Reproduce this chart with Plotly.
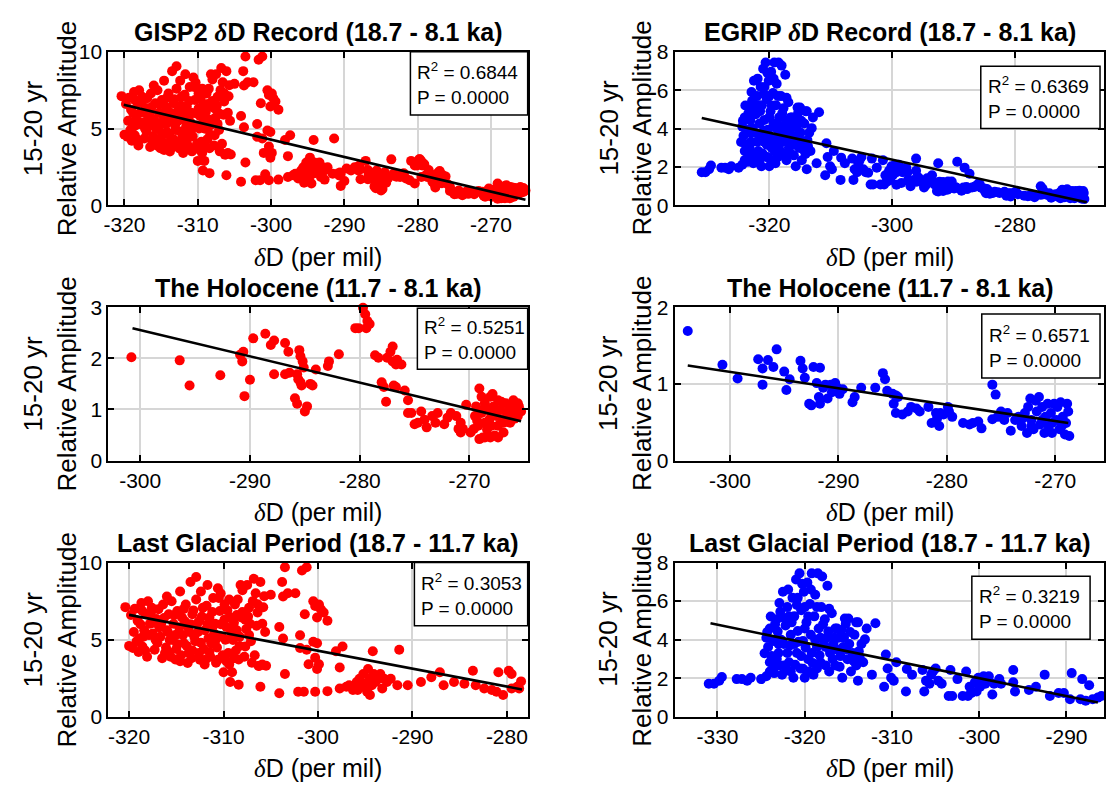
import plotly.graph_objects as go

W, H = 1106, 792

# ---------------- data ----------------
# (deltaD per mil, 15-20 yr relative amplitude)
gisp2_holocene = [
    (-300.8, 2.02), (-296.4, 1.96), (-295.5, 1.47), (-292.7, 1.67), (-290.9, 2.07), (-290.7, 1.94),
    (-290.6, 2.13), (-290.5, 1.26), (-290.0, 1.58), (-289.7, 2.39), (-288.6, 2.48), (-288.1, 2.26),
    (-287.8, 2.35), (-287.8, 1.69), (-286.8, 2.30), (-286.5, 2.13), (-286.8, 1.69), (-286.4, 1.72),
    (-285.9, 1.22), (-285.7, 1.11), (-285.5, 2.16), (-285.4, 2.04), (-285.2, 1.94), (-285.7, 1.69),
    (-285.6, 1.59), (-285.4, 1.53), (-285.3, 1.47), (-285.1, 1.82), (-285.0, 0.96), (-284.8, 1.06),
    (-284.5, 1.50), (-284.3, 1.47), (-284.0, 1.78), (-282.9, 1.85), (-282.8, 1.94), (-281.9, 2.08),
    (-280.4, 2.59), (-280.1, 2.59), (-279.7, 2.99), (-279.5, 2.86), (-279.3, 2.73), (-279.1, 2.67),
    (-279.4, 2.59), (-278.6, 2.06), (-278.3, 2.01), (-278.0, 1.53), (-277.8, 1.44), (-277.6, 1.15),
    (-277.5, 2.01), (-277.2, 2.13), (-277.0, 2.23), (-277.0, 1.94), (-276.7, 1.88), (-276.6, 1.97),
    (-276.2, 1.88), (-276.9, 1.47), (-276.7, 1.44), (-275.9, 1.37), (-275.6, 1.18), (-275.6, 0.93),
    (-275.3, 0.93), (-275.0, 0.71), (-274.7, 0.74), (-274.4, 0.96), (-274.1, 0.80), (-273.9, 0.65),
    (-273.4, 0.87), (-273.1, 0.74), (-272.9, 0.93), (-272.3, 0.71), (-272.0, 0.84), (-271.7, 0.93),
    (-271.2, 0.87), (-270.8, 0.74), (-270.8, 0.55), (-270.3, 1.09), (-271.0, 0.62), (-270.6, 0.62),
    (-269.9, 0.55), (-269.5, 0.87), (-269.4, 1.06), (-269.2, 0.68), (-269.1, 1.41), (-268.9, 1.25),
    (-268.9, 0.93), (-268.8, 0.45), (-268.6, 1.12), (-268.6, 0.74), (-268.4, 0.61), (-268.3, 0.99),
    (-268.3, 0.49), (-268.1, 1.25), (-268.0, 0.87), (-268.0, 0.68), (-267.8, 1.06), (-267.7, 0.49),
    (-267.5, 0.87), (-267.4, 1.18), (-267.4, 0.68), (-267.2, 0.99), (-267.0, 0.80), (-266.9, 0.55),
    (-266.7, 1.12), (-266.6, 0.87), (-266.4, 1.06), (-266.3, 0.74), (-266.1, 0.93), (-266.0, 1.18),
    (-265.8, 0.99), (-265.6, 0.87), (-265.5, 1.06), (-265.3, 0.96), (-269.1, 0.42), (-268.6, 0.45),
    (-268.1, 0.45), (-267.4, 0.45), (-266.9, 0.74), (-269.6, 0.62), (-268.7, 1.00), (-267.9, 1.30),
    (-267.1, 1.15), (-266.5, 0.95), (-265.9, 0.82), (-268.2, 0.80), (-267.6, 0.95), (-269.3, 0.78),
    (-266.2, 1.02), (-265.6, 1.12),
]

gisp2_glacial = [
    (-320.4, 7.11), (-320.0, 4.60), (-319.6, 4.46), (-319.1, 6.23), (-318.7, 7.38), (-318.6, 6.86),
    (-318.4, 5.61), (-318.2, 6.65), (-318.9, 5.08), (-318.6, 4.56), (-318.0, 7.49), (-317.8, 6.03),
    (-317.6, 7.07), (-317.5, 5.40), (-317.3, 4.35), (-317.1, 6.34), (-316.9, 6.97), (-316.7, 5.19),
    (-316.6, 6.03), (-316.4, 7.28), (-316.2, 4.14), (-316.0, 5.61), (-315.8, 6.65), (-315.7, 4.98),
    (-315.5, 7.49), (-315.3, 6.03), (-315.1, 3.72), (-314.9, 6.86), (-314.8, 5.40), (-314.6, 8.12),
    (-314.4, 6.44), (-314.2, 4.77), (-314.0, 7.28), (-313.8, 5.82), (-313.7, 4.14), (-313.5, 8.74),
    (-313.3, 6.65), (-313.1, 5.19), (-312.9, 9.06), (-312.8, 6.03), (-312.6, 4.14), (-312.4, 8.12),
    (-312.2, 7.07), (-312.0, 5.61), (-311.9, 3.72), (-311.7, 8.54), (-311.5, 6.44), (-311.3, 4.77),
    (-311.1, 7.70), (-310.9, 6.03), (-310.8, 3.51), (-310.6, 8.33), (-310.4, 6.86), (-310.2, 5.19),
    (-310.0, 2.89), (-309.9, 7.28), (-309.7, 5.82), (-309.5, 4.14), (-309.3, 6.44), (-309.1, 2.89),
    (-309.0, 4.98), (-308.8, 7.28), (-308.6, 5.61), (-308.4, 3.72), (-308.2, 8.54), (-308.1, 6.44),
    (-309.3, 2.26), (-308.4, 2.09), (-307.7, 4.56), (-307.5, 8.54), (-307.3, 7.07), (-307.2, 6.03),
    (-307.0, 3.51), (-306.8, 8.95), (-306.6, 8.01), (-306.4, 6.76), (-306.2, 3.31), (-306.1, 8.74),
    (-305.9, 6.03), (-305.7, 7.82), (-305.5, 3.31), (-306.1, 1.95), (-305.0, 7.91), (-303.8, 8.74),
    (-303.5, 9.69), (-303.7, 7.80), (-303.2, 8.01), (-304.1, 5.82), (-303.7, 5.08), (-303.5, 2.78),
    (-304.1, 1.53), (-302.4, 8.01), (-301.9, 5.29), (-301.9, 4.46), (-302.1, 1.63), (-301.5, 1.63),
    (-301.7, 9.48), (-301.2, 9.69), (-301.4, 6.65), (-301.2, 4.35), (-301.0, 3.41), (-300.3, 1.63),
    (-300.5, 7.49), (-300.3, 7.18), (-299.9, 7.28), (-299.7, 6.97), (-299.4, 6.76), (-299.0, 6.23),
    (-300.1, 6.44), (-300.5, 4.87), (-300.1, 4.77), (-300.3, 3.83), (-299.9, 3.41), (-300.1, 3.10),
    (-299.0, 1.67), (-298.1, 4.25), (-297.7, 3.20), (-297.4, 4.56), (-297.7, 1.84), (-297.0, 1.95),
    (-296.7, 2.05), (-296.3, 1.74), (-295.9, 2.26), (-295.8, 1.74), (-295.6, 2.47), (-295.4, 1.95),
    (-295.2, 2.78), (-295.0, 2.15), (-294.8, 1.63), (-294.7, 3.10), (-294.5, 2.47), (-294.5, 1.42),
    (-294.3, 2.05), (-294.2, 4.25), (-294.1, 2.78), (-293.9, 2.26), (-293.6, 2.47), (-293.4, 2.78),
    (-293.2, 1.84), (-293.0, 2.47), (-292.7, 2.26), (-292.3, 2.47), (-291.4, 4.35), (-291.6, 2.05),
    (-290.5, 2.05), (-289.1, 2.26), (-288.0, 2.57), (-287.1, 2.89), (-286.7, 2.05), (-285.6, 2.26),
    (-284.5, 2.15), (-283.6, 2.99), (-283.3, 2.05), (-282.4, 1.84), (-281.6, 1.74), (-281.1, 1.63),
    (-280.9, 2.89), (-280.4, 1.42), (-279.8, 2.99), (-279.5, 2.78), (-279.5, 1.84), (-278.9, 1.95),
    (-278.5, 2.30), (-278.7, 1.84),
    (-319.5, 5.5), (-319.2, 4.9), (-318.8, 6.0), (-318.3, 4.3), (-317.9, 5.3), (-317.7, 6.7),
    (-317.0, 4.8), (-316.8, 5.8), (-316.3, 6.4), (-316.1, 4.5), (-315.9, 5.5), (-315.6, 3.9),
    (-315.4, 5.0), (-315.2, 6.6), (-315.0, 4.4), (-314.7, 5.8), (-314.5, 4.0), (-314.3, 5.3),
    (-314.1, 6.2), (-313.9, 4.6), (-313.6, 5.5), (-313.4, 3.8), (-313.2, 6.9), (-313.0, 4.9),
    (-312.7, 5.5), (-312.5, 3.7), (-312.3, 6.5), (-312.1, 4.4), (-311.8, 7.2), (-311.6, 5.1),
    (-311.4, 3.9), (-311.2, 6.8), (-311.0, 5.4), (-310.7, 4.5), (-310.5, 7.7), (-310.3, 6.0),
    (-310.1, 4.0), (-309.8, 5.0), (-309.6, 6.9), (-309.4, 3.4), (-309.2, 5.6), (-308.9, 6.1),
    (-308.7, 4.3), (-308.5, 7.6), (-308.3, 5.2), (-308.0, 6.8), (-307.8, 3.9), (-307.6, 5.7),
    (-307.4, 6.5), (-307.1, 4.9), (-306.9, 7.5), (-306.5, 5.9), (-306.3, 3.3), (-305.8, 7.1),
    (-305.6, 5.5),
    (-319.8, 6.6), (-319.4, 7.0), (-319.0, 4.2), (-318.5, 5.2), (-318.1, 3.9), (-317.4, 6.1),
    (-317.2, 5.0), (-316.5, 3.8), (-316.0, 7.8), (-315.8, 4.2), (-315.1, 5.3), (-314.9, 4.7),
    (-314.6, 3.6), (-314.2, 7.0), (-313.8, 3.5), (-313.5, 6.0), (-313.3, 4.3), (-312.9, 7.6),
    (-312.6, 6.2), (-312.4, 4.8), (-312.0, 3.4), (-311.7, 6.0), (-311.5, 4.2), (-311.1, 5.9),
    (-310.9, 4.9), (-310.6, 3.7), (-310.3, 8.0), (-309.9, 6.3), (-309.7, 3.6), (-309.4, 7.6),
    (-309.1, 5.3), (-308.9, 3.8), (-308.6, 6.6), (-308.3, 4.6), (-308.0, 8.2), (-307.7, 6.3),
    (-307.3, 5.3), (-306.7, 4.0), (-306.4, 7.3), (-305.9, 3.4),
]

egrip_holocene = [
    (-303.9, 1.69), (-300.7, 1.25), (-299.3, 1.07), (-297.4, 1.32), (-297.0, 1.20), (-297.0, 0.99),
    (-296.5, 1.31), (-296.0, 1.22), (-295.7, 1.45), (-295.0, 1.16), (-294.8, 0.92), (-294.5, 1.06),
    (-293.5, 1.30), (-293.3, 1.20), (-293.1, 1.08), (-292.7, 0.74), (-292.5, 0.72), (-292.3, 1.22),
    (-292.0, 1.01), (-291.8, 0.83), (-291.7, 1.21), (-291.7, 0.74), (-291.4, 0.95), (-291.2, 0.99),
    (-291.0, 0.81), (-290.7, 0.99), (-290.6, 0.89), (-290.3, 1.01), (-290.1, 0.95), (-289.9, 0.87),
    (-289.6, 0.93), (-288.7, 0.76), (-288.5, 0.83), (-287.9, 0.95), (-286.6, 0.95), (-285.9, 1.14),
    (-285.7, 1.06), (-285.5, 0.91), (-285.0, 0.87), (-284.9, 0.74), (-284.7, 0.85), (-284.5, 0.83),
    (-284.7, 0.62), (-284.1, 0.60), (-283.6, 0.64), (-283.3, 0.70), (-282.8, 0.68), (-282.5, 0.64),
    (-281.7, 0.70), (-281.4, 0.49), (-281.0, 0.62), (-280.9, 0.55), (-280.7, 0.45), (-280.6, 0.62),
    (-280.3, 0.60), (-279.9, 0.70), (-279.8, 0.64), (-279.5, 0.57), (-278.5, 0.49), (-277.9, 0.47),
    (-277.6, 0.49), (-277.1, 0.51), (-276.8, 0.42), (-275.8, 0.99), (-275.5, 0.86), (-275.8, 0.54),
    (-275.3, 0.57), (-275.0, 0.64), (-274.7, 0.53), (-274.4, 0.62), (-274.1, 0.39), (-273.7, 0.53),
    (-273.4, 0.57), (-273.1, 0.45), (-272.8, 0.62), (-272.6, 0.36), (-272.5, 0.70), (-272.3, 0.81),
    (-272.2, 0.53), (-272.0, 0.41), (-271.8, 0.78), (-271.7, 0.64), (-271.5, 0.83), (-271.4, 0.47),
    (-271.2, 0.70), (-271.0, 0.36), (-270.9, 0.57), (-270.7, 0.74), (-270.6, 0.45), (-270.4, 0.62),
    (-270.3, 0.36), (-270.1, 0.74), (-269.9, 0.53), (-269.8, 0.70), (-269.6, 0.41), (-269.5, 0.76),
    (-269.3, 0.57), (-269.1, 0.34), (-269.0, 0.49), (-268.8, 0.64), (-268.7, 0.32), (-273.0, 0.55),
    (-272.2, 0.45), (-271.2, 0.53), (-270.3, 0.49), (-269.4, 0.45), (-268.9, 0.74),
]

egrip_glacial = [
    (-331.0, 1.72), (-330.4, 1.72), (-329.8, 1.88), (-329.5, 2.07), (-327.8, 1.96), (-327.2, 1.96),
    (-326.6, 1.88), (-326.2, 2.03), (-325.0, 1.96), (-324.4, 2.11), (-324.0, 2.35),
    (-324.4, 4.10), (-324.2, 3.62), (-324.0, 4.58), (-323.8, 3.15), (-323.6, 3.94), (-323.4, 2.67),
    (-323.2, 5.06), (-323.1, 4.42), (-323.0, 3.31), (-322.8, 5.45), (-322.6, 2.19), (-322.5, 6.49),
    (-322.4, 3.78), (-322.2, 4.74), (-322.0, 5.69), (-321.8, 2.83), (-321.6, 4.26), (-321.4, 6.17),
    (-321.3, 2.03), (-321.2, 5.21), (-321.0, 7.12), (-320.9, 3.31), (-320.8, 4.45), (-320.6, 7.44),
    (-320.5, 2.51), (-320.4, 5.53), (-320.2, 3.94), (-320.1, 6.49), (-320.0, 2.03), (-319.8, 4.90),
    (-319.7, 6.96), (-319.6, 2.99), (-319.4, 5.85), (-319.3, 4.26), (-319.2, 7.44), (-319.0, 2.19),
    (-318.9, 5.21), (-318.8, 6.33), (-318.6, 3.62), (-318.5, 7.44), (-318.4, 4.58), (-318.2, 2.83),
    (-318.1, 5.69), (-318.0, 7.28), (-317.8, 3.94), (-317.7, 5.06), (-317.6, 2.67), (-317.4, 6.80),
    (-317.3, 4.42), (-317.1, 3.31), (-316.9, 5.37), (-316.7, 3.78), (-316.5, 2.67), (-316.3, 4.58),
    (-316.1, 4.10), (-315.9, 3.15), (-315.7, 2.03), (-315.5, 4.10), (-315.3, 4.82), (-315.1, 2.99),
    (-314.9, 3.78), (-314.7, 2.35), (-314.5, 3.31), (-314.3, 4.26), (-314.1, 2.67), (-313.9, 1.88),
    (-313.7, 3.07), (-313.5, 3.78), (-313.3, 2.83), (-312.9, 4.58), (-313.1, 4.02), (-312.3, 2.19),
    (-311.9, 4.85), (-313.9, 4.90), (-315.4, 5.10),
    (-324.0, 2.83), (-323.5, 2.27), (-323.0, 3.78), (-322.4, 2.67), (-322.0, 3.31), (-321.6, 2.35),
    (-321.2, 3.78), (-320.4, 3.15), (-320.0, 4.58), (-319.5, 2.35), (-319.2, 3.31), (-318.6, 2.51),
    (-318.2, 4.10), (-317.6, 3.62), (-317.2, 2.35), (-316.5, 4.58), (-316.2, 3.47), (-315.6, 3.62),
    (-322.9, 2.67), (-320.8, 6.17), (-320.0, 5.69), (-321.8, 5.21),
    (-324.6, 3.3), (-324.3, 4.4), (-323.9, 5.2), (-323.7, 2.4), (-323.4, 4.8), (-323.2, 3.0),
    (-322.9, 5.9), (-322.7, 4.0), (-322.3, 5.1), (-322.1, 2.4), (-321.9, 6.6), (-321.7, 3.7),
    (-321.5, 4.9), (-321.1, 2.7), (-320.9, 5.8), (-320.7, 3.9), (-320.3, 6.9), (-320.2, 2.5),
    (-319.9, 3.6), (-319.6, 5.2), (-319.3, 6.6), (-319.1, 2.8), (-318.8, 4.0), (-318.6, 5.7),
    (-318.3, 3.2), (-317.9, 4.8), (-317.5, 4.1), (-317.2, 5.6), (-316.8, 3.0), (-316.6, 4.1),
    (-316.0, 2.6), (-315.8, 4.5), (-315.2, 3.5), (-314.8, 4.4), (-314.4, 2.9), (-313.8, 3.4),
    (-315.0, 5.1), (-314.1, 4.9),
    (-310.7, 3.23), (-310.5, 2.51), (-310.9, 1.56), (-310.1, 2.03), (-309.8, 1.88), (-309.5, 2.83),
    (-308.4, 1.32), (-308.3, 2.48), (-307.7, 2.19), (-306.5, 2.43), (-306.3, 1.32), (-306.1, 1.88),
    (-305.7, 1.72), (-305.5, 2.19), (-305.3, 2.35), (-305.0, 2.51), (-304.7, 1.88), (-304.3, 1.72),
    (-303.3, 2.43), (-303.5, 1.08), (-303.1, 1.08), (-302.5, 1.96), (-301.9, 1.08), (-301.5, 2.35),
    (-301.3, 1.08), (-301.1, 1.56), (-300.9, 1.24), (-300.5, 1.80), (-300.3, 1.32), (-300.1, 2.03),
    (-299.9, 1.56), (-299.7, 1.88), (-299.5, 2.11), (-299.3, 1.72), (-298.9, 2.11), (-298.5, 1.16),
    (-298.3, 1.72), (-297.7, 1.96), (-297.5, 1.72), (-296.1, 2.43), (-295.9, 1.32), (-296.1, 1.80),
    (-294.3, 1.40), (-293.5, 1.56), (-292.5, 2.19), (-291.9, 1.08), (-290.9, 1.24), (-290.3, 1.24),
    (-289.6, 0.92), (-289.4, 2.27), (-288.2, 1.96), (-287.4, 1.64), (-288.4, 0.92), (-287.8, 0.84),
    (-287.0, 0.92), (-286.4, 1.00), (-286.0, 1.08),
]

# regression lines (endpoints)
fit_gisp2_all = ([-320.1, -265.3], [6.55, 0.35])
fit_egrip_all = ([-331.0, -268.3], [4.55, 0.15])
fit_gisp2_hol = ([-300.7, -265.3], [2.59, 0.77])
fit_egrip_hol = ([-303.9, -268.8], [1.24, 0.49])
fit_gisp2_gla = ([-320.0, -278.4], [6.61, 1.78])
fit_egrip_gla = ([-330.8, -286.4], [4.85, 0.75])

r2_values = ["0.6844", "0.6369", "0.5251", "0.6571", "0.3053", "0.3219"]
p_values = ["0.0000", "0.0000", "0.0000", "0.0000", "0.0000", "0.0000"]

DELTA = "<span style=\"font-family:'Liberation Serif', 'DejaVu Serif', serif\"><i>δ</i></span>"
panel_titles = [
    "GISP2 " + DELTA + "D Record (18.7 - 8.1 ka)",
    "EGRIP " + DELTA + "D Record (18.7 - 8.1 ka)",
    "The Holocene (11.7 - 8.1 ka)",
    "The Holocene (11.7 - 8.1 ka)",
    "Last Glacial Period (18.7 - 11.7 ka)",
    "Last Glacial Period (18.7 - 11.7 ka)",
]
x_label = DELTA + "D (per mil)"
y_label = "15-20 yr<br>Relative Amplitude"

x_ticks = [
    [-320, -310, -300, -290, -280, -270],
    [-320, -300, -280],
    [-300, -290, -280, -270],
    [-300, -290, -280, -270],
    [-320, -310, -300, -290, -280],
    [-330, -320, -310, -300, -290],
]
y_ticks = [
    [0, 5, 10],
    [0, 2, 4, 6, 8],
    [0, 1, 2, 3],
    [0, 1, 2],
    [0, 5, 10],
    [0, 2, 4, 6, 8],
]
x_ranges = [
    [-322.2, -265.0],
    [-335.4, -265.5],
    [-302.9, -264.7],
    [-305.1, -265.5],
    [-322.2, -277.8],
    [-334.9, -285.7],
]
y_ranges = [[0, 10], [0, 8], [0, 3], [0, 2], [0, 10], [0, 8]]

# ---------------- layout geometry (pixels) ----------------
col_px = [(104, 526), (674, 1106)]
row_px = [(41, 199), (304, 462), (567, 726)]
box_px = [
    (408, 526, 41, 106),
    (982, 1102, 56, 120),
    (415, 526, 305, 368),
    (983, 1102, 311, 377),
    (412, 526, 567, 632),
    (973, 1092, 581, 646),
]
ylab_x = [45, 624]

def fx(p):
    return p / W

def fy(p):
    return 1 - p / H

FONT = "Liberation Sans, Arial, Helvetica, sans-serif"

datasets = [
    gisp2_glacial + gisp2_holocene,
    egrip_glacial + egrip_holocene,
    gisp2_holocene,
    egrip_holocene,
    gisp2_glacial,
    egrip_glacial,
]
fits = [fit_gisp2_all, fit_egrip_all, fit_gisp2_hol, fit_egrip_hol, fit_gisp2_gla, fit_egrip_gla]
colors = ["#ff0000", "#0000ff"] * 3

fig = go.Figure()
annotations = []
shapes = []

for i in range(6):
    r, c = divmod(i, 2)
    ax = "" if i == 0 else str(i + 1)
    xs = [p[0] for p in datasets[i]]
    ys = [p[1] for p in datasets[i]]
    fig.add_trace(go.Scatter(
        x=xs, y=ys, mode="markers", xaxis="x" + ax, yaxis="y" + ax,
        marker=dict(color=colors[i], size=10, line=dict(width=0)),
        cliponaxis=False, showlegend=False, hoverinfo="skip",
    ))
    fig.add_trace(go.Scatter(
        x=fits[i][0], y=fits[i][1], mode="lines", xaxis="x" + ax, yaxis="y" + ax,
        line=dict(color="black", width=2.6), showlegend=False, hoverinfo="skip",
    ))
    x0, x1 = col_px[c]
    t0, t1 = row_px[r]
    axis_common = dict(
        showline=True, linecolor="black", linewidth=2, mirror="ticks",
        ticks="inside", ticklen=6, tickwidth=2, tickcolor="black",
        showgrid=True, gridcolor="#d6d6d6", gridwidth=1.5, zeroline=False,
        tickfont=dict(family=FONT, size=21, color="black"), fixedrange=True,
    )
    fig.update_layout(**{
        "xaxis" + ax: dict(axis_common, domain=[fx(x0), fx(x1)], range=x_ranges[i],
                           tickvals=x_ticks[i], ticktext=[str(v) for v in x_ticks[i]],
                           anchor="y" + ax),
        "yaxis" + ax: dict(axis_common, domain=[fy(t1), fy(t0)], range=y_ranges[i],
                           tickvals=y_ticks[i], ticktext=[str(v) for v in y_ticks[i]],
                           anchor="x" + ax),
    })
    xc = (x0 + (1108 if c == 1 else x1)) / 2
    # title
    annotations.append(dict(
        text="<b>" + panel_titles[i] + "</b>", x=fx(xc), y=fy(t0 - 20),
        xref="paper", yref="paper", xanchor="center", yanchor="middle", showarrow=False,
        font=dict(family=FONT, size=25, color="black"),
    ))
    # x label
    annotations.append(dict(
        text=x_label, x=fx(xc), y=fy(t1 + 53),
        xref="paper", yref="paper", xanchor="center", yanchor="middle", showarrow=False,
        font=dict(family=FONT, size=25, color="black"),
    ))
    # y label
    annotations.append(dict(
        text=y_label, x=fx(ylab_x[c]), y=fy((t0 + t1) / 2),
        xref="paper", yref="paper", xanchor="center", yanchor="middle", showarrow=False,
        textangle=-90, font=dict(family=FONT, size=26, color="black"),
    ))
    # stats box
    bx0, bx1, by0, by1 = box_px[i]
    shapes.append(dict(
        type="rect", xref="paper", yref="paper", x0=fx(bx0), x1=fx(bx1), y0=fy(by1), y1=fy(by0),
        line=dict(color="black", width=1.5), fillcolor="white", layer="above",
    ))
    annotations.append(dict(
        text="R<sup>2</sup> = " + r2_values[i] + "<br>P = " + p_values[i],
        x=fx(bx0 + 5), y=fy((by0 + by1) / 2), xref="paper", yref="paper",
        xanchor="left", yanchor="middle", align="left", showarrow=False,
        font=dict(family=FONT, size=19, color="black"),
    ))

fig.update_layout(
    width=W, height=H, margin=dict(l=0, r=0, t=0, b=0),
    paper_bgcolor="white", plot_bgcolor="white",
    showlegend=False, annotations=annotations, shapes=shapes,
)

fig.write_html("out.html")
